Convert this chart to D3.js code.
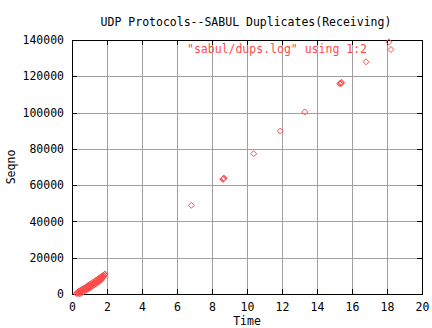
<!DOCTYPE html>
<html>
<head>
<meta charset="utf-8">
<script src="https://cdn.jsdelivr.net/npm/d3@7"></script>
<style>
  body { margin: 0; background: #fff; }
  text { font-family: "DejaVu Sans Mono", monospace; font-size: 11.5px; fill: #000; }
</style>
</head>
<body>
<div id="chart"></div>
<script>
var svgWidth = 432;
var svgHeight = 328;

var margin = { top: 40, right: 10, bottom: 34, left: 72 };
var width = svgWidth - margin.left - margin.right;
var height = svgHeight - margin.top - margin.bottom;

// data: time (s) and sequence number
var timeVals = [0.25, 0.3, 0.35, 0.4, 0.42, 0.45, 0.5, 0.52, 0.55, 0.6, 0.62, 0.66,
  0.7, 0.72, 0.76, 0.8, 0.83, 0.87, 0.9, 0.93, 0.97, 1.0, 1.03, 1.07, 1.1, 1.13,
  1.17, 1.2, 1.23, 1.27, 1.3, 1.33, 1.37, 1.4, 1.43, 1.47, 1.5, 1.53, 1.57, 1.6,
  1.63, 1.67, 1.7, 1.73, 1.78, 1.8, 1.85, 1.9,
  0.32, 0.47, 0.57, 0.68, 0.78, 0.88, 0.98, 1.08, 1.18, 1.28, 1.38, 1.48, 1.58, 1.68, 1.76, 1.83,
  0.38, 0.53, 0.64, 0.74, 0.85, 0.95, 1.05, 1.15, 1.25, 1.35, 1.45, 1.55, 1.65, 1.75,
  6.82, 8.62, 8.65, 8.68, 8.64, 10.38, 11.9, 13.3, 15.3, 15.35, 15.4, 15.37, 16.8, 18.11];
var seqVals = [300, 900, 400, 1600, 100, 900, 2200, 300, 1400, 2800, 1900, 1200,
  3300, 2500, 1900, 3900, 3000, 2400, 4600, 3600, 3000, 5200, 4300, 3600, 5800, 4900,
  4300, 6500, 5600, 5000, 7100, 6200, 5600, 7800, 6900, 6300, 8400, 7500, 7000, 9100,
  8200, 7700, 9800, 8900, 9600, 10400, 10800, 11100,
  500, 1300, 1800, 2300, 3000, 3500, 4100, 4700, 5300, 5900, 6500, 7100, 7800, 8500, 9000, 9900,
  1000, 1700, 2300, 2800, 3500, 4000, 4700, 5200, 5900, 6600, 7300, 8000, 8600, 9300,
  48900, 63200, 63600, 63900, 63400, 77300, 89800, 100300, 115800, 116300, 116700, 116000, 128000, 139000];

var xTicks = [0, 2, 4, 6, 8, 10, 12, 14, 16, 18, 20];
var yTicks = [0, 20000, 40000, 60000, 80000, 100000, 120000, 140000];

var titleText = "UDP Protocols--SABUL Duplicates(Receiving)";
var keyText = "\"sabul/dups.log\" using 1:2";
var red = "#ff4a4a";

var svg = d3.select("#chart")
  .append("svg")
  .attr("width", svgWidth)
  .attr("height", svgHeight);

var chartGroup = svg.append("g")
  .attr("transform", `translate(${margin.left}, ${margin.top})`);

var x = d3.scaleLinear().domain([0, 20]).range([0, width]);
var y = d3.scaleLinear().domain([0, 140000]).range([height, 0]);

// grid
chartGroup.append("g")
  .attr("transform", `translate(0, ${height})`)
  .call(d3.axisBottom(x).tickValues(xTicks).tickSize(-height).tickFormat(""))
  .call(g => g.select(".domain").remove())
  .call(g => g.selectAll("line").attr("stroke", "#a0a0a0").attr("shape-rendering", "crispEdges"));

chartGroup.append("g")
  .call(d3.axisLeft(y).tickValues(yTicks).tickSize(-width).tickFormat(""))
  .call(g => g.select(".domain").remove())
  .call(g => g.selectAll("line").attr("stroke", "#a0a0a0").attr("shape-rendering", "crispEdges"));

// border
chartGroup.append("rect")
  .attr("width", width)
  .attr("height", height)
  .attr("fill", "none")
  .attr("stroke", "#000")
  .attr("shape-rendering", "crispEdges");

// axes with inward ticks
function styleAxis(g) {
  g.select(".domain").remove();
  g.selectAll("line").attr("stroke", "#000").attr("shape-rendering", "crispEdges");
  g.selectAll("text").attr("font-family", null).attr("font-size", null).attr("fill", "#000");
}

chartGroup.append("g")
  .attr("transform", `translate(0, ${height})`)
  .call(d3.axisBottom(x).tickValues(xTicks).tickSize(-5).tickPadding(9).tickFormat(d3.format("d")))
  .call(styleAxis);

chartGroup.append("g")
  .call(d3.axisLeft(y).tickValues(yTicks).tickSize(-5).tickPadding(8).tickFormat(d3.format("d")))
  .call(styleAxis);

chartGroup.append("g")
  .call(d3.axisTop(x).tickValues(xTicks).tickSize(-5).tickFormat(""))
  .call(styleAxis);

chartGroup.append("g")
  .attr("transform", `translate(${width}, 0)`)
  .call(d3.axisRight(y).tickValues(yTicks).tickSize(-5).tickFormat(""))
  .call(styleAxis);

// points
var diamond = "M0,-3L3,0L0,3L-3,0Z";

chartGroup.selectAll("path.pt")
  .data(timeVals)
  .enter()
  .append("path")
  .attr("class", "pt")
  .attr("d", diamond)
  .attr("transform", function (d, i) { return `translate(${x(d)}, ${y(seqVals[i])})`; })
  .attr("fill", "none")
  .attr("stroke", red)
  .attr("stroke-width", 1);

// key
chartGroup.append("text")
  .attr("x", 367 - margin.left)
  .attr("y", 53 - margin.top)
  .attr("text-anchor", "end")
  .style("fill", red)
  .text(keyText);

chartGroup.append("path")
  .attr("d", diamond)
  .attr("transform", `translate(${391 - margin.left}, ${49.5 - margin.top})`)
  .attr("fill", "none")
  .attr("stroke", red);

// title and axis labels
svg.append("text")
  .attr("x", 246)
  .attr("y", 26)
  .attr("text-anchor", "middle")
  .text(titleText);

svg.append("text")
  .attr("x", 247)
  .attr("y", 325)
  .attr("text-anchor", "middle")
  .text("Time");

svg.append("text")
  .attr("transform", `translate(15, ${margin.top + height / 2}) rotate(-90)`)
  .attr("text-anchor", "middle")
  .text("Seqno");
</script>
</body>
</html>
